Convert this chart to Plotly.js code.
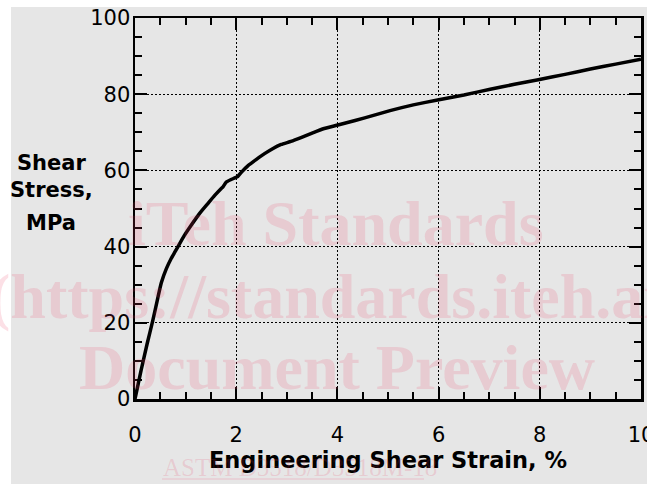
<!DOCTYPE html>
<html>
<head>
<meta charset="utf-8">
<script src="https://cdn.plot.ly/plotly-3.0.1.min.js"></script>
<style>html,body{margin:0;padding:0;background:#fff;}#chart{width:647px;height:484px;}</style>
</head>
<body>
<div id="chart"></div>
<script>
// Data
const strain = [0, 0.12, 0.24, 0.35, 0.45, 0.52, 0.62, 0.72, 0.78, 0.85, 0.97, 1.11, 1.27, 1.44, 1.58, 1.70, 1.74, 1.80, 1.90, 2.03, 2.10, 2.23, 2.40, 2.56, 2.72, 2.89, 3.08, 3.28, 3.50, 3.74, 4.01, 4.35, 4.73, 5.04, 5.50, 5.98, 6.50, 7.02, 7.50, 7.97, 8.50, 9.00, 9.50, 10.0];
const stress = [0, 7.5, 14.5, 20.5, 26.5, 30.5, 34.2, 37.0, 38.4, 40.0, 42.8, 45.6, 48.6, 51.3, 53.5, 55.2, 55.7, 56.9, 57.6, 58.4, 59.5, 61.2, 62.9, 64.4, 65.7, 66.8, 67.6, 68.6, 69.8, 71.0, 71.9, 73.1, 74.5, 75.7, 77.2, 78.5, 79.8, 81.3, 82.6, 83.8, 85.2, 86.6, 87.9, 89.2];
const xTickVals = [0, 2, 4, 6, 8, 10];
const yTickVals = [0, 20, 40, 60, 80, 100];
const xRange = [0, 10];
const yRange = [0, 100];
const xTitle = "Engineering Shear Strain, %";
const yTitleLines = ["Shear", "Stress,", "MPa"];
const watermarkLines = ["iTeh Standards", "(https://standards.iteh.ai)", "Document Preview"];
const watermarkRef = "ASTM D3518/D3518M-18";

const W = 647, H = 484;
const L = 135, R = 6, T = 18, B = 85;
const pw = W - L - R, ph = H - T - B;
const px = v => (v - L) / pw;
const py = v => (H - B - v) / ph;

const tickFont = {family: "DejaVu Sans", size: 21, color: "#000"};
const titleFont = {family: "DejaVu Sans", size: 21, color: "#000", weight: "bold"};
const wmColor = "rgba(235,60,100,0.16)";
const wmFont = {family: "Liberation Serif", size: 64, color: wmColor, weight: "bold"};

const axisCommon = {
  showline: true, linecolor: "#000", linewidth: 2.5,
  ticks: "inside", ticklen: 12, tickwidth: 2, tickcolor: "#000",
  zeroline: false, tickfont: tickFont, fixedrange: true, ticklabeloverflow: "allow"
};
const xMinor = {dtick: 0.5, ticks: "inside", ticklen: 7, tickwidth: 2, tickcolor: "#000", showgrid: false};
const yMinor = {dtick: 5, ticks: "inside", ticklen: 7, tickwidth: 2, tickcolor: "#000", showgrid: false};

const trace = {
  x: strain, y: stress, type: "scatter", mode: "lines",
  line: {color: "#000", width: 3.5, shape: "spline", smoothing: 0.4},
  hoverinfo: "skip", showlegend: false
};
// invisible copy on the mirrored (top/right) axes so that their ticks are drawn
const mirrorTrace = {
  x: strain, y: stress, type: "scatter", mode: "lines", xaxis: "x2", yaxis: "y2",
  line: {color: "rgba(0,0,0,0)", width: 0}, hoverinfo: "skip", showlegend: false
};

const layout = {
  width: W, height: H,
  margin: {l: L, r: R, t: T, b: B, pad: 0},
  paper_bgcolor: "#ffffff",
  plot_bgcolor: "rgba(0,0,0,0)",
  showlegend: false,
  xaxis: Object.assign({}, axisCommon, {
    range: xRange, tickmode: "array", tickvals: xTickVals,
    ticktext: xTickVals.map(String), ticklabelstandoff: 15,
    showgrid: true, gridcolor: "#000", gridwidth: 1, griddash: "2px,2px",
    minor: xMinor,
    title: {text: "<b>" + xTitle + "</b>", font: Object.assign({}, titleFont, {size: 22.5}), standoff: 4}
  }),
  yaxis: Object.assign({}, axisCommon, {
    range: yRange, tickmode: "array", tickvals: yTickVals,
    ticktext: yTickVals.map(String), ticklabelstandoff: -2,
    showgrid: true, gridcolor: "#000", gridwidth: 1, griddash: "2px,2px",
    minor: yMinor
  }),
  xaxis2: Object.assign({}, axisCommon, {
    range: xRange, overlaying: "x", side: "top", anchor: "y",
    tickmode: "array", tickvals: xTickVals, showticklabels: false, showgrid: false, minor: xMinor
  }),
  yaxis2: Object.assign({}, axisCommon, {
    range: yRange, overlaying: "y", side: "right", anchor: "x",
    tickmode: "array", tickvals: yTickVals, showticklabels: false, showgrid: false, minor: yMinor
  }),
  shapes: [
    {type: "rect", xref: "paper", yref: "paper", x0: px(11), x1: px(650), y0: py(490), y1: py(7),
     fillcolor: "#e6e6e6", line: {width: 0}, layer: "below"},
    {type: "line", xref: "paper", yref: "paper", x0: px(162), x1: px(424), y0: py(479), y1: py(479),
     line: {color: wmColor, width: 1.5}, layer: "above"}
  ],
  annotations: [
    {xref: "paper", yref: "paper", x: px(51), y: py(176), xanchor: "center", yanchor: "middle",
     text: "<b>" + yTitleLines[0] + "<br>" + yTitleLines[1] + "</b>", font: titleFont, showarrow: false, align: "center"},
    {xref: "paper", yref: "paper", x: px(51), y: py(223), xanchor: "center", yanchor: "middle",
     text: "<b>" + yTitleLines[2] + "</b>", font: titleFont, showarrow: false},
    {xref: "paper", yref: "paper", x: px(336), y: py(223), xanchor: "center", yanchor: "middle",
     text: watermarkLines[0], font: wmFont, showarrow: false},
    {xref: "paper", yref: "paper", x: px(335), y: py(296), xanchor: "center", yanchor: "middle",
     text: watermarkLines[1], font: wmFont, showarrow: false},
    {xref: "paper", yref: "paper", x: px(337), y: py(367), xanchor: "center", yanchor: "middle",
     text: watermarkLines[2], font: wmFont, showarrow: false},
    {xref: "paper", yref: "paper", x: px(161), y: py(467), xanchor: "left", yanchor: "middle",
     text: watermarkRef, font: {family: "Liberation Serif", size: 25, color: wmColor}, showarrow: false}
  ]
};

Plotly.newPlot("chart", [trace, mirrorTrace], layout, {displayModeBar: false, staticPlot: true});
</script>
</body>
</html>
